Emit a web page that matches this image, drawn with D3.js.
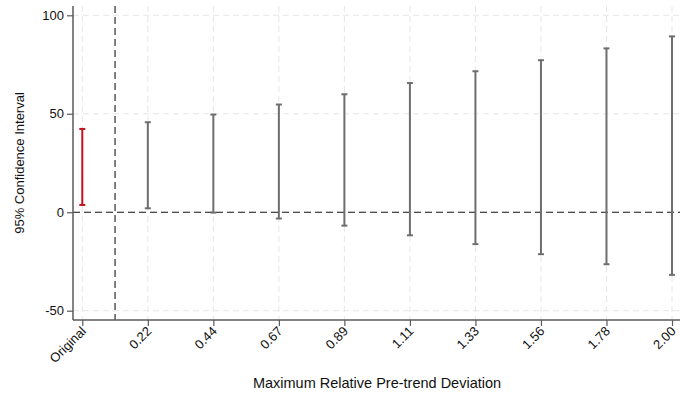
<!DOCTYPE html>
<html>
<head>
<meta charset="utf-8">
<script src="https://cdn.jsdelivr.net/npm/d3@7"></script>
<style>
  body { margin: 0; background: #fff; }
  svg { display: block; font-family: "Liberation Sans", Arial, sans-serif; }
</style>
</head>
<body>
<svg id="chart"></svg>
<script>
// categories along x (first one is the original estimate)
const categories = ["Original", "0.22", "0.44", "0.67", "0.89", "1.11", "1.33", "1.56", "1.78", "2.00"];
// confidence interval bounds
const lower = [3.7, 2.0, -0.2, -3.2, -6.8, -11.7, -16.2, -21.3, -26.4, -31.8];
const upper = [42.3, 45.7, 49.6, 54.7, 59.9, 65.6, 71.6, 77.2, 83.2, 89.3];
const yTicks = [-50, 0, 50, 100];

const width = 680, height = 397;
const svg = d3.select("#chart").attr("width", width).attr("height", height);

// scales
const x = d3.scalePoint().domain(categories).range([82.3, 672]);
const y = d3.scaleLinear().domain([-50, 100]).range([310.7, 15.3]);

const axisX = 73, axisY = 320, topY = 6;
const axisCol = "#5a5a5a";

// grid lines (light dashed)
const grid = svg.append("g");
grid.selectAll("line.gy")
  .data(yTicks.filter(d => d !== 0))
  .join("line")
  .attr("x1", axisX).attr("x2", width)
  .attr("y1", d => y(d)).attr("y2", d => y(d))
  .attr("stroke", "#e6e6e6").attr("stroke-width", 1)
  .attr("stroke-dasharray", "6,4");
grid.selectAll("line.gx")
  .data(categories)
  .join("line")
  .attr("x1", d => x(d)).attr("x2", d => x(d))
  .attr("y1", topY).attr("y2", axisY)
  .attr("stroke", "#e6e6e6").attr("stroke-width", 1)
  .attr("stroke-dasharray", "6,4");

// zero reference
svg.append("line")
  .attr("x1", axisX).attr("x2", width)
  .attr("y1", y(0)).attr("y2", y(0))
  .attr("stroke", "#111").attr("stroke-width", 1.2)
  .attr("stroke-dasharray", "7,4");

// separator between original and the rest
const sepX = (x(categories[0]) + x(categories[1])) / 2;
svg.append("line")
  .attr("x1", sepX).attr("x2", sepX)
  .attr("y1", topY).attr("y2", axisY)
  .attr("stroke", "#555").attr("stroke-width", 1.5)
  .attr("stroke-dasharray", "7,4");

// error bars
const bars = svg.append("g");
const rows = categories.map((c, i) => ({ c, lo: lower[i], hi: upper[i], col: i === 0 ? "#c0141c" : "#6e6e6e" }));
const capW = 3;
const g = bars.selectAll("g").data(rows).join("g");
g.append("line")
  .attr("x1", d => x(d.c)).attr("x2", d => x(d.c))
  .attr("y1", d => y(d.lo)).attr("y2", d => y(d.hi))
  .attr("stroke", d => d.col).attr("stroke-width", 2);
g.append("line")
  .attr("x1", d => x(d.c) - capW).attr("x2", d => x(d.c) + capW)
  .attr("y1", d => y(d.hi)).attr("y2", d => y(d.hi))
  .attr("stroke", d => d.col).attr("stroke-width", 2);
g.append("line")
  .attr("x1", d => x(d.c) - capW).attr("x2", d => x(d.c) + capW)
  .attr("y1", d => y(d.lo)).attr("y2", d => y(d.lo))
  .attr("stroke", d => d.col).attr("stroke-width", 2);

// y axis (plain hyphen for negatives)
const yAxis = svg.append("g")
  .attr("transform", `translate(${axisX},0)`)
  .call(d3.axisLeft(y).tickValues(yTicks).tickSize(6).tickPadding(3).tickFormat(d => String(d)));
yAxis.select(".domain").remove();
yAxis.append("line").attr("x1", 0).attr("x2", 0).attr("y1", topY).attr("y2", axisY)
  .attr("stroke", axisCol).attr("stroke-width", 1.5);
yAxis.selectAll(".tick line").attr("stroke", axisCol).attr("stroke-width", 1.2);
yAxis.selectAll(".tick text").attr("font-size", 13).attr("fill", "#111")
  .attr("font-family", "Liberation Sans, Arial, sans-serif");

// x axis
const xAxis = svg.append("g")
  .attr("transform", `translate(0,${axisY})`)
  .call(d3.axisBottom(x).tickSize(6).tickPadding(3));
xAxis.select(".domain").remove();
xAxis.append("line").attr("x1", axisX).attr("x2", width).attr("y1", 0).attr("y2", 0)
  .attr("stroke", axisCol).attr("stroke-width", 1.5);
xAxis.selectAll(".tick line").attr("stroke", axisCol).attr("stroke-width", 1.2);
xAxis.selectAll(".tick text")
  .attr("font-size", 13).attr("fill", "#111")
  .attr("font-family", "Liberation Sans, Arial, sans-serif")
  .attr("text-anchor", "end")
  .attr("dy", null).attr("y", 0)
  .attr("transform", "translate(4,12) rotate(-45)");

// axis titles
svg.append("text")
  .attr("x", 377).attr("y", 388)
  .attr("text-anchor", "middle").attr("font-size", 14.5).attr("fill", "#111")
  .text("Maximum Relative Pre-trend Deviation");
svg.append("text")
  .attr("transform", "translate(24,163) rotate(-90)")
  .attr("text-anchor", "middle").attr("font-size", 13).attr("fill", "#111")
  .text("95% Confidence Interval");
</script>
</body>
</html>
